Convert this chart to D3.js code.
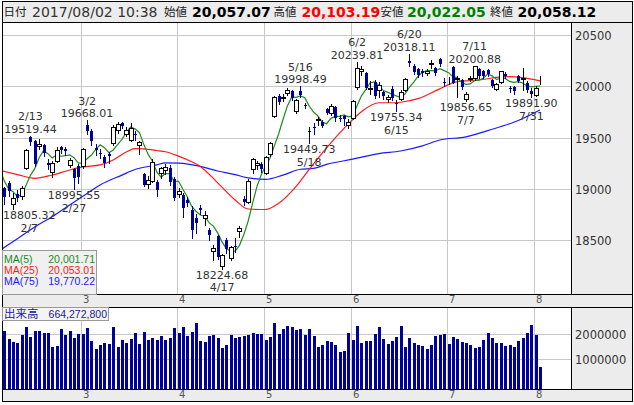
<!DOCTYPE html>
<html><head><meta charset="utf-8">
<script src="https://cdn.jsdelivr.net/npm/d3@7"></script>
<style>body{margin:0;background:#fff}svg{display:block}</style>
</head><body>
<svg id="c" width="634" height="405"></svg>
<script>
// ---------- data ----------
const dates = [
"2/2","2/3","2/6","2/7","2/8","2/9","2/10","2/13","2/14","2/15","2/16","2/17","2/20","2/21","2/22","2/23","2/24","2/27","2/28",
"3/1","3/2","3/3","3/6","3/7","3/8","3/9","3/10","3/13","3/14","3/15","3/16","3/17","3/21","3/22","3/23","3/24","3/27","3/28","3/29","3/30","3/31",
"4/3","4/4","4/5","4/6","4/7","4/10","4/11","4/12","4/13","4/14","4/17","4/18","4/19","4/20","4/21","4/24","4/25","4/26","4/27","4/28",
"5/1","5/2","5/8","5/9","5/10","5/11","5/12","5/15","5/16","5/17","5/18","5/19","5/22","5/23","5/24","5/25","5/26","5/29","5/30","5/31",
"6/1","6/2","6/5","6/6","6/7","6/8","6/9","6/12","6/13","6/14","6/15","6/16","6/19","6/20","6/21","6/22","6/23","6/26","6/27","6/28","6/29","6/30",
"7/3","7/4","7/5","7/6","7/7","7/10","7/11","7/12","7/13","7/14","7/18","7/19","7/20","7/21","7/24","7/25","7/26","7/27","7/28","7/31",
"8/1","8/2"];
const open = [
19040,19005,19060,18850,18950,18930,19200,19505,19470,19420,19430,19250,19170,19270,19410,19390,19230,19190,19220,
19220,19620,19560,19400,19350,19310,19345,19450,19570,19640,19540,19480,19540,19430,19150,19050,19075,19070,19160,19185,19200,19100,
18950,18940,18895,18800,18720,18810,18715,18600,18400,18540,18250,18500,18330,18445,18590,18900,18870,19190,19230,19240,
19160,19340,19710,19905,19890,19935,19950,19760,19955,19820,19560,19600,19670,19655,19775,19740,19800,19690,19710,19620,
19690,19990,20150,20130,19975,20040,19960,19940,19880,19975,19840,19880,19960,20250,20200,20170,20150,20130,20220,20175,20265,20040,
20050,20190,20070,20060,19880,20075,20080,20170,20150,20160,20060,19970,20045,20120,19985,19990,20100,20070,20030,19950,
19920,20057.07];
const high = [
19060,19020,19080,18960,18990,19030,19390,19519.44,19480,19490,19440,19290,19270,19410,19420,19410,19300,19200,19240,
19400,19668.01,19580,19440,19390,19330,19360,19620,19656,19655,19600,19640,19560,19470,19160,19130,19290,19090,19215,19240,19230,19120,
19010,18960,18920,18830,18760,18840,18790,18620,18451,18550,18370,18520,18440,18520,18640,18930,19100,19300,19270,19260,
19320,19460,19910,19930,19925,19980,19960,19880,19998.49,19840,19600,19640,19700,19670,19790,19830,19810,19720,19720,19680,
19870,20239.81,20200,20140,20050,20060,20040,19950,19920,20000,19870,19960,20080,20318.11,20220,20180,20170,20170,20260,20190,20280,20080,
20090,20200,20100,20070,19940,20100,20200.88,20180,20160,20170,20070,20030,20150,20140,20000,20000,20110,20175,20050,19980,
20000,20103.19];
const low = [
18880,18850,18930,18805.32,18880,18900,19190,19430,19220,19390,19320,19190,19120,19260,19350,19330,19210,18995.55,19060,
19200,19540,19430,19330,19300,19210,19250,19430,19550,19590,19520,19470,19480,19340,19030,19010,19070,18930,19110,19150,19040,18890,
18920,18730,18830,18520,18570,18760,18650,18500,18310,18320,18224.68,18380,18310,18390,18530,18840,18860,19160,19190,19170,
19150,19320,19700,19830,19860,19920,19870,19740,19900,19790,19449.73,19540,19620,19600,19730,19720,19660,19660,19620,19590,
19680,19970,20110,19970,19930,19890,19900,19880,19850,19870,19755.34,19870,19950,20200,20120,20090,20100,20110,20180,20110,20200,20000,
20020,20030,19900,19970,19856.65,20050,20060,20080,20080,20100,19990,19960,20030,20080,19940,19930,20040,19960,19940,19891.90,
19910,20022.05];
const close = [
18914.58,18918.20,18976.71,18910.78,18907.67,19007.60,19378.93,19459.15,19238.98,19437.98,19347.53,19234.62,19251.08,19381.44,19379.87,19371.46,19283.54,19107.47,19118.99,
19393.54,19564.80,19469.17,19379.14,19344.15,19254.03,19318.58,19604.61,19633.75,19609.50,19577.38,19590.14,19521.59,19455.88,19041.38,19085.31,19262.53,18985.59,19202.87,19217.48,19063.22,18909.26,
18983.23,18810.25,18861.27,18597.06,18664.63,18797.88,18747.87,18552.61,18426.84,18335.63,18355.26,18418.59,18432.20,18430.49,18620.75,18875.88,19079.33,19289.43,19251.87,19196.74,
19310.52,19445.70,19895.70,19843.00,19900.09,19961.55,19883.90,19869.85,19919.82,19814.88,19553.86,19590.76,19678.28,19613.28,19742.98,19813.13,19686.84,19682.57,19677.85,19650.57,
19860.03,20177.28,20170.82,19979.90,19984.62,19909.26,20013.26,19908.58,19898.75,19883.52,19831.82,19943.26,20067.75,20230.41,20138.79,20110.51,20132.67,20153.35,20225.09,20130.41,20220.30,20033.43,
20055.80,20032.35,20081.63,19994.06,19929.09,20080.98,20195.48,20098.38,20099.81,20118.86,19999.91,20020.86,20144.59,20099.75,19975.67,19955.20,20050.16,20079.64,19959.84,19925.18,
19985.79,20058.12];
const volume = [
1900000,2130000,1810000,1690000,1650000,1970000,2300000,1890000,2130000,2130000,2040000,2040000,1490000,1530000,2210000,1970000,2130000,1850000,2010000,
2010000,2250000,1730000,1410000,1570000,1650000,1610000,2300000,1490000,1770000,1650000,1810000,2050000,1610000,2090000,1770000,1850000,1770000,1930000,1770000,1850000,2250000,
2050000,2300000,1930000,2090000,2460000,1730000,1690000,1930000,1970000,1850000,1450000,1570000,1970000,1850000,1890000,1930000,1970000,2050000,2010000,2010000,
1770000,1890000,2460000,2010000,2210000,2340000,2300000,2170000,2210000,1970000,2210000,1930000,1490000,1570000,1730000,1690000,1570000,1280000,1320000,2050000,
1770000,2340000,1650000,1730000,1730000,2010000,2300000,1810000,1610000,1730000,1890000,2340000,1490000,1850000,1650000,1570000,1530000,1410000,1570000,1930000,1970000,2010000,
1610000,1890000,1810000,1690000,1650000,1570000,1450000,1490000,1770000,2050000,1850000,1650000,1650000,1530000,1570000,1490000,1730000,1850000,2050000,2380000,
1970000,664272.8];
const ma5 = [
19188,19078,19000,18974,18926,18944,19036,19133,19198,19305,19373,19344,19302,19331,19319,19324,19333,19305,19252,
19255,19294,19331,19385,19430,19402,19353,19380,19431,19484,19549,19603,19586,19551,19437,19339,19273,19166,19116,19151,19146,19076,
19075,18997,18925,18832,18783,18746,18734,18672,18638,18572,18484,18418,18394,18394,18451,18556,18688,18859,19023,19139,
19226,19299,19420,19538,19679,19809,19897,19892,19907,19890,19808,19750,19712,19650,19636,19688,19707,19708,19721,19702,
19712,19810,19907,19968,20035,20044,20012,19959,19943,19923,19907,19893,19925,19991,20042,20098,20136,20153,20152,20150,20172,20153,
20133,20094,20085,20039,20019,20024,20056,20060,20081,20119,20102,20068,20077,20077,20048,20039,20045,20032,20004,19994,
20000,20002];
const ma25Dates = ["2/2","2/8","2/14","2/20","2/24","3/1","3/7","3/10","3/15","3/17","3/22","3/27","3/29","4/3","4/6","4/10","4/14","4/20","4/25","5/1","5/9","5/15","5/18","5/24","5/30","6/5","6/9","6/14","6/16","6/22","6/29","7/5","7/12","7/21","7/27","8/2"];
const ma25Vals = [19180,19140,19104,19136,19185,19215,19234,19282,19360,19393,19390,19375,19363,19320,19266,19220,19060,18893,18805,18800,18860,19025,19190,19400,19590,19753,19840,19840,19845,19880,19975,20045,20062,20094,20085,20053.01];
const ma75Dates = ["2/2","2/8","2/14","2/20","2/24","3/2","3/7","3/14","3/17","3/27","3/29","4/3","4/10","4/14","4/20","4/25","5/1","5/10","5/16","5/19","5/24","6/1","6/9","6/16","6/23","6/29","7/7","7/14","7/25","8/2"];
const ma75Vals = [18402,18515,18630,18730,18845,18957,19039,19135,19190,19234,19255,19252,19220,19175,19140,19108,19094,19135,19192,19200,19240,19290,19345,19370,19420,19477,19508,19569,19650,19770.22];
const priceTicks = [18500,19000,19500,20000,20500];
const volTicks = [1000000,2000000];
const hiDates = ["2/13","3/2","5/16","6/2","6/20","7/11"];
const hiVals = [19519.44,19668.01,19998.49,20239.81,20318.11,20200.88];
const loDates = ["2/7","2/27","4/17","5/18","6/15","7/7","7/31"];
const loVals = [18805.32,18995.55,18224.68,19449.73,19755.34,19856.65,19891.90];
const headerLabels = ["日付","始値","高値","安値","終値"];
const headerValues = ["2017/08/02 10:38","20,057.07","20,103.19","20,022.05","20,058.12"];
const legendNames = ["MA(5)","MA(25)","MA(75)"];
const legendValues = ["20,001.71","20,053.01","19,770.22"];
const volLabel = "出来高";
const volValue = "664,272,800";

// ---------- layout ----------
const svg = d3.select("#c");
const NUM = "'DejaVu Sans', Tahoma, sans-serif";
const CJK = "'Noto Sans CJK JP', sans-serif";
const LIB = "'Liberation Sans', Arial, sans-serif";
const GRID = "#c8c8c8", PANEL = "#ececec", DOWN = "#00009a";
const L = 2.5, R = 632.5, PR = 571.5;
const T = 22.5, PB = 294.5, VT = 307.5, VB = 389.5, BB = 401.5;

const x = d3.scalePoint().domain(dates).range([-0.05, 540]);
const y = d3.scaleLinear().domain([18500, 20500]).range([240.3, 35]);
const yv = d3.scaleLinear().domain([0, 2000000]).range([383.7, 334.3]);

svg.append("rect").attr("width",634).attr("height",405).attr("fill","#fff");

// header
svg.append("rect").attr("x",L).attr("y",1.5).attr("width",R-L).attr("height",T-1.5).attr("fill",PANEL).attr("stroke","#000");
const hdrX = [3.5, 164, 273.5, 380.5, 490];
const valX = [32, 192, 301.5, 407, 517.5];
const valCol = ["#333","#000","#ff0000","#008000","#000"];
headerLabels.forEach((t,i)=>svg.append("text").attr("x",hdrX[i]).attr("y",16).attr("font-family",CJK).attr("font-size",11.5).attr("fill","#222").text(t));
headerValues.forEach((t,i)=>svg.append("text").attr("x",valX[i]).attr("y",16.5).attr("font-family",NUM).attr("font-size",14)
  .attr("font-weight", i===0?"normal":"bold").attr("fill",valCol[i]).text(t));

// panels
function panel(y0,y1){
  svg.append("rect").attr("x",L).attr("y",y0).attr("width",PR-L).attr("height",y1-y0).attr("fill","#fff").attr("stroke","#000");
  svg.append("rect").attr("x",PR).attr("y",y0).attr("width",R-PR).attr("height",y1-y0).attr("fill",PANEL).attr("stroke","#000");
}
panel(T,PB); panel(VT,VB);
svg.append("rect").attr("x",L).attr("y",PB).attr("width",R-L).attr("height",VT-PB).attr("fill",PANEL).attr("stroke","#000");
svg.append("rect").attr("x",L).attr("y",VB).attr("width",R-L).attr("height",BB-VB).attr("fill",PANEL).attr("stroke","#000");

const defs = svg.append("defs");
defs.append("clipPath").attr("id","cp").append("rect").attr("x",L+0.5).attr("y",T+0.5).attr("width",PR-L-1).attr("height",PB-T-1);
defs.append("clipPath").attr("id","cv").append("rect").attr("x",L+0.5).attr("y",VT+0.5).attr("width",PR-L-1).attr("height",VB-VT-1);

// month gridlines
const monthStarts = dates.filter((d,i)=> i>0 && d.split("/")[0] !== dates[i-1].split("/")[0]);
const gp = svg.append("g").attr("clip-path","url(#cp)");
const gv = svg.append("g").attr("clip-path","url(#cv)");
monthStarts.forEach(d=>{
  const gx = Math.round(x(d)-1.7)+0.5;
  gp.append("line").attr("x1",gx).attr("x2",gx).attr("y1",T).attr("y2",PB).attr("stroke",GRID);
  gv.append("line").attr("x1",gx).attr("x2",gx).attr("y1",VT).attr("y2",VB).attr("stroke",GRID);
  [302.5, 397.5].forEach(ty=>svg.append("text").attr("x",gx+1.5).attr("y",ty).attr("font-family",NUM).attr("font-size",10).attr("fill","#555").text(d.split("/")[0]));
});
priceTicks.forEach(v=>{
  const gy = Math.round(y(v))+0.5;
  gp.append("line").attr("x1",L).attr("x2",PR).attr("y1",gy).attr("y2",gy).attr("stroke",GRID);
  svg.append("text").attr("x",575).attr("y",gy+4.5).attr("font-family",NUM).attr("font-size",11.5).attr("fill","#333").text(v);
});
volTicks.forEach(v=>{
  const gy = Math.round(yv(v))+0.5;
  gv.append("line").attr("x1",L).attr("x2",PR).attr("y1",gy).attr("y2",gy).attr("stroke",GRID);
  svg.append("text").attr("x",575).attr("y",gy+4.5).attr("font-family",NUM).attr("font-size",11.5).attr("fill","#333").text(v);
});

// MA lines
const ma25 = ma25Dates.map((d,i)=>[x(d), y(ma25Vals[i])]);
const ma75 = ma75Dates.map((d,i)=>[x(d), y(ma75Vals[i])]);
const ma5p = dates.map((d,i)=>[x(d), y(ma5[i])]);
gp.append("path").attr("d", d3.line().curve(d3.curveMonotoneX)(ma75)).attr("fill","none").attr("stroke","#1a1aff").attr("stroke-width",1.2);
gp.append("path").attr("d", d3.line().curve(d3.curveMonotoneX)(ma25)).attr("fill","none").attr("stroke","#ff1a1a").attr("stroke-width",1.2);
gp.append("path").attr("d", d3.line()(ma5p)).attr("fill","none").attr("stroke","#1f8a1f").attr("stroke-width",1.2);

// candles
dates.forEach((d,i)=>{
  const c = Math.round(x(d));
  const up = close[i] >= open[i];
  const col = up ? "#000" : DOWN;
  gp.append("line").attr("x1",c+0.5).attr("x2",c+0.5).attr("y1",Math.round(y(high[i]))).attr("y2",Math.round(y(low[i]))+1).attr("stroke",col);
  const top = Math.round(y(Math.max(open[i],close[i])));
  const bot = Math.round(y(Math.min(open[i],close[i])));
  if (up) {
    gp.append("rect").attr("x",c-1.5).attr("y",top+0.5).attr("width",4).attr("height",Math.max(0,bot-top)).attr("fill","#fff").attr("stroke","#000");
  } else {
    gp.append("rect").attr("x",c-1).attr("y",top).attr("width",3).attr("height",Math.max(1,bot-top)).attr("fill",DOWN);
  }
});

// volume
dates.forEach((d,i)=>{
  const c = Math.round(x(d));
  const vy = Math.round(yv(volume[i]));
  gv.append("rect").attr("x",c-1).attr("y",vy).attr("width",3).attr("height",VB-vy).attr("fill",DOWN);
});

// annotations
function label(d, v, isHigh){
  const g = gp.append("g");
  const tv = g.append("text").attr("font-family",NUM).attr("font-size",11).attr("fill","#333").attr("text-anchor","middle").text(v.toFixed(2));
  const td = g.append("text").attr("font-family",NUM).attr("font-size",11).attr("fill","#333").attr("text-anchor","middle").text(d);
  const w = tv.node().getComputedTextLength();
  const cx = Math.max(L + 0.5 + w/2, Math.min(PR - 1 - w/2, x(d)));
  const vy = isHigh ? y(v) - 3 : y(v) + 10;
  const dy = isHigh ? vy - 12.8 : vy + 12.8;
  tv.attr("x",cx).attr("y",vy);
  td.attr("x",cx).attr("y",dy);
}
hiDates.forEach((d,i)=>label(d,hiVals[i],true));
loDates.forEach((d,i)=>label(d,loVals[i],false));

// MA legend
const lg = svg.append("g");
lg.append("rect").attr("x",L).attr("y",250.5).attr("width",94).attr("height",PB-250.5).attr("fill","#f0f0f0").attr("stroke","#999");
const lcol = ["#1f8a1f","#ff1a1a","#1a1aff"];
legendNames.forEach((n,i)=>{
  lg.append("text").attr("x",4).attr("y",262.5+i*11).attr("font-family",LIB).attr("font-size",10.5).attr("fill",lcol[i]).text(n);
  lg.append("text").attr("x",95).attr("y",262.5+i*11).attr("text-anchor","end").attr("font-family",LIB).attr("font-size",10.5).attr("fill",lcol[i]).text(legendValues[i]);
});

// volume legend
svg.append("rect").attr("x",L).attr("y",VT).attr("width",106).attr("height",13).attr("fill","#f4f4f4").attr("stroke","#999");
svg.append("text").attr("x",4).attr("y",318).attr("font-family",CJK).attr("font-size",11.5).attr("fill","#2020a0").text(volLabel);
svg.append("text").attr("x",107).attr("y",318).attr("text-anchor","end").attr("font-family",LIB).attr("font-size",10.5).attr("fill","#2020a0").text(volValue);
</script>
</body></html>
